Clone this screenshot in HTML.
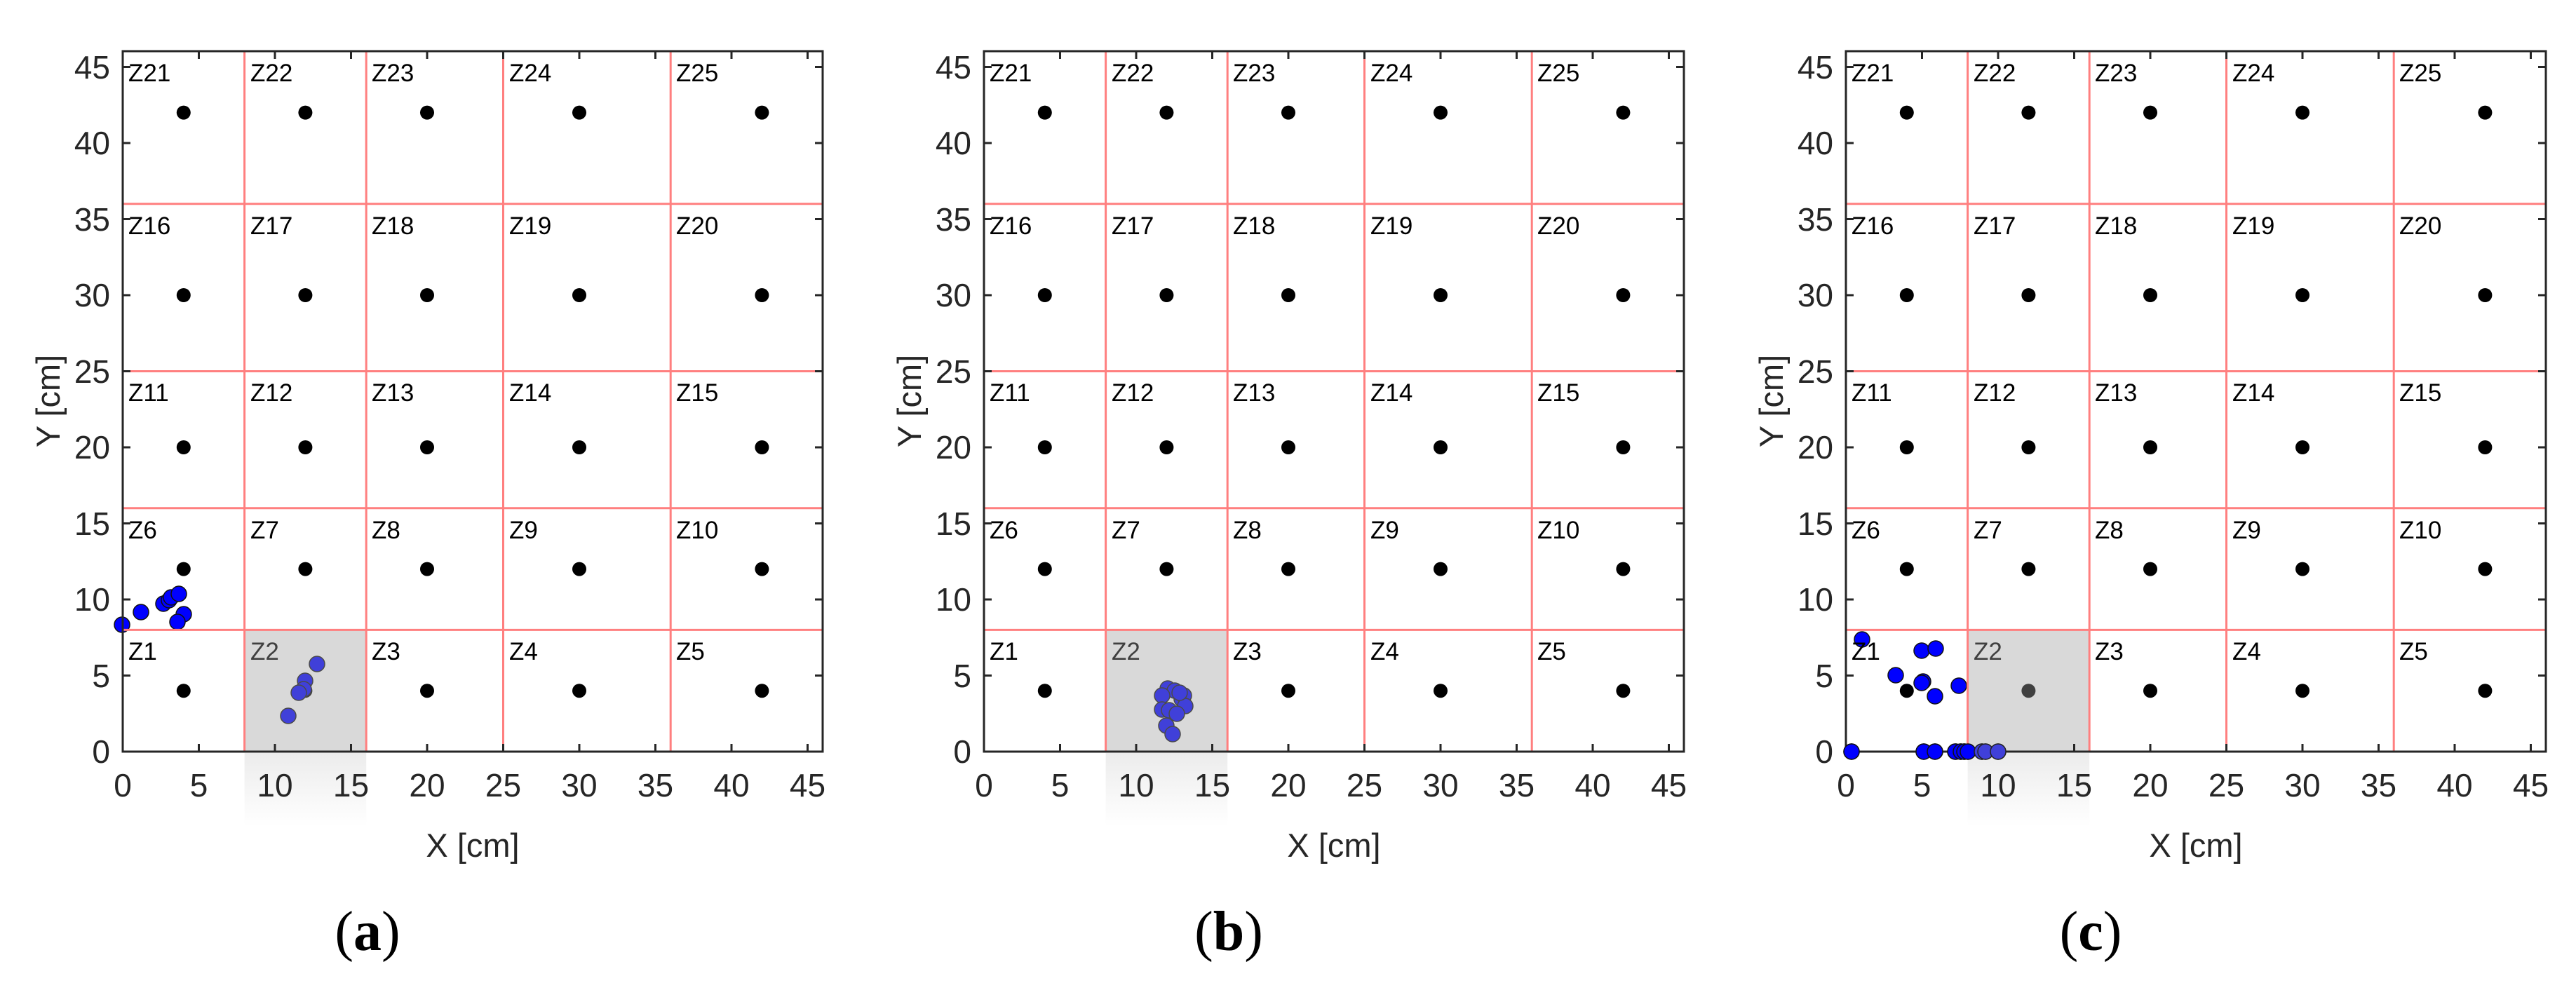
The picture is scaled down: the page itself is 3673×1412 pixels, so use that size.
<!DOCTYPE html>
<html><head><meta charset="utf-8"><style>
html,body{margin:0;padding:0;background:#fff;}
svg{display:block;}
text{font-family:"Liberation Sans",sans-serif;}
.tk{font-size:46px;fill:#262626;}
.z{font-size:35px;fill:#000;}
.ax{font-size:47px;fill:#262626;}
.cap{font-family:"Liberation Serif",serif;font-size:80px;fill:#000;}
.red{stroke:#ff7f7f;stroke-width:3;}
.axis{stroke:#262626;stroke-width:3;fill:none;}
.bd{fill:#000;}
.bl{fill:#0000ff;stroke:#111;stroke-width:1.5;}
</style></head><body>
<svg width="3673" height="1412" viewBox="0 0 3673 1412" xmlns="http://www.w3.org/2000/svg">
<defs>
<linearGradient id="fd" x1="0" y1="0" x2="0" y2="1"><stop offset="0" stop-color="#ececec"/><stop offset="1" stop-color="#ffffff"/></linearGradient>
</defs>

<!-- ===== PANEL A ===== -->
<g transform="translate(0,0)">
<rect x="348.6" y="1074" width="173.6" height="105" fill="url(#fd)"/>
<g class="bd">
<circle cx="261.8" cy="160.6" r="10"/><circle cx="435.4" cy="160.6" r="10"/><circle cx="609" cy="160.6" r="10"/><circle cx="826" cy="160.6" r="10"/><circle cx="1086.4" cy="160.6" r="10"/>
<circle cx="261.8" cy="421" r="10"/><circle cx="435.4" cy="421" r="10"/><circle cx="609" cy="421" r="10"/><circle cx="826" cy="421" r="10"/><circle cx="1086.4" cy="421" r="10"/>
<circle cx="261.8" cy="638" r="10"/><circle cx="435.4" cy="638" r="10"/><circle cx="609" cy="638" r="10"/><circle cx="826" cy="638" r="10"/><circle cx="1086.4" cy="638" r="10"/>
<circle cx="261.8" cy="811.6" r="10"/><circle cx="435.4" cy="811.6" r="10"/><circle cx="609" cy="811.6" r="10"/><circle cx="826" cy="811.6" r="10"/><circle cx="1086.4" cy="811.6" r="10"/>
<circle cx="261.8" cy="985.2" r="10"/><circle cx="435.4" cy="985.2" r="10"/><circle cx="609" cy="985.2" r="10"/><circle cx="826" cy="985.2" r="10"/><circle cx="1086.4" cy="985.2" r="10"/>
</g>
<g class="bl">
<circle cx="201" cy="873" r="11"/><circle cx="233" cy="861" r="11"/><circle cx="241" cy="856" r="11"/><circle cx="262" cy="876" r="11"/><circle cx="253" cy="887" r="11"/><circle cx="244" cy="852" r="11"/><circle cx="255" cy="847" r="11"/><circle cx="174" cy="891" r="11"/>
<circle cx="452" cy="947" r="11"/><circle cx="435" cy="971" r="11"/><circle cx="433" cy="983" r="11"/><circle cx="426" cy="988" r="11"/><circle cx="411" cy="1021" r="11"/>
</g>
<rect x="348.6" y="898.4" width="173.6" height="173.6" fill="rgb(160,160,160)" fill-opacity="0.4"/>
<g class="red">
<line x1="348.6" y1="73" x2="348.6" y2="1072"/><line x1="522.2" y1="73" x2="522.2" y2="1072"/><line x1="717.5" y1="73" x2="717.5" y2="1072"/><line x1="956.2" y1="73" x2="956.2" y2="1072"/>
<line x1="175" y1="898.4" x2="1173" y2="898.4"/><line x1="175" y1="724.8" x2="1173" y2="724.8"/><line x1="175" y1="529.5" x2="1173" y2="529.5"/><line x1="175" y1="290.8" x2="1173" y2="290.8"/>
</g>
<g class="z">
<text x="183" y="116">Z21</text><text x="357" y="116">Z22</text><text x="530" y="116">Z23</text><text x="726" y="116">Z24</text><text x="964" y="116">Z25</text>
<text x="183" y="334">Z16</text><text x="357" y="334">Z17</text><text x="530" y="334">Z18</text><text x="726" y="334">Z19</text><text x="964" y="334">Z20</text>
<text x="183" y="572">Z11</text><text x="357" y="572">Z12</text><text x="530" y="572">Z13</text><text x="726" y="572">Z14</text><text x="964" y="572">Z15</text>
<text x="183" y="768">Z6</text><text x="357" y="768">Z7</text><text x="530" y="768">Z8</text><text x="726" y="768">Z9</text><text x="964" y="768">Z10</text>
<text x="183" y="941">Z1</text><text x="357" y="941" fill="#404040">Z2</text><text x="530" y="941">Z3</text><text x="726" y="941">Z4</text><text x="964" y="941">Z5</text>
</g>
<rect x="175" y="73" width="998" height="999" class="axis"/>
<path class="axis" d="M283.5,1072v-11M392,1072v-11M500.5,1072v-11M609,1072v-11M717.5,1072v-11M826,1072v-11M934.5,1072v-11M1043,1072v-11M1151.5,1072v-11
M283.5,73v11M392,73v11M500.5,73v11M609,73v11M717.5,73v11M826,73v11M934.5,73v11M1043,73v11M1151.5,73v11
M175,963.5h11M175,855h11M175,746.5h11M175,638h11M175,529.5h11M175,421h11M175,312.5h11M175,204h11M175,95.5h11
M1173,963.5h-11M1173,855h-11M1173,746.5h-11M1173,638h-11M1173,529.5h-11M1173,421h-11M1173,312.5h-11M1173,204h-11M1173,95.5h-11"/>
<g class="tk" text-anchor="end">
<text x="157" y="1088">0</text><text x="157" y="980">5</text><text x="157" y="871">10</text><text x="157" y="763">15</text><text x="157" y="654">20</text><text x="157" y="546">25</text><text x="157" y="437">30</text><text x="157" y="329">35</text><text x="157" y="220">40</text><text x="157" y="112">45</text>
</g>
<g class="tk" text-anchor="middle">
<text x="175" y="1136">0</text><text x="283.5" y="1136">5</text><text x="392" y="1136">10</text><text x="500.5" y="1136">15</text><text x="609" y="1136">20</text><text x="717.5" y="1136">25</text><text x="826" y="1136">30</text><text x="934.5" y="1136">35</text><text x="1043" y="1136">40</text><text x="1151.5" y="1136">45</text>
</g>
<text class="ax" x="674" y="1222" text-anchor="middle">X [cm]</text>
<text class="ax" transform="translate(85,572) rotate(-90)" text-anchor="middle">Y [cm]</text>
<text class="cap" x="524" y="1355" text-anchor="middle">(<tspan font-weight="bold">a</tspan>)</text>
</g>

<!-- ===== PANEL B ===== -->
<g transform="translate(1228,0)">
<rect x="348.6" y="1074" width="173.6" height="105" fill="url(#fd)"/>
<g class="bd">
<circle cx="261.8" cy="160.6" r="10"/><circle cx="435.4" cy="160.6" r="10"/><circle cx="609" cy="160.6" r="10"/><circle cx="826" cy="160.6" r="10"/><circle cx="1086.4" cy="160.6" r="10"/>
<circle cx="261.8" cy="421" r="10"/><circle cx="435.4" cy="421" r="10"/><circle cx="609" cy="421" r="10"/><circle cx="826" cy="421" r="10"/><circle cx="1086.4" cy="421" r="10"/>
<circle cx="261.8" cy="638" r="10"/><circle cx="435.4" cy="638" r="10"/><circle cx="609" cy="638" r="10"/><circle cx="826" cy="638" r="10"/><circle cx="1086.4" cy="638" r="10"/>
<circle cx="261.8" cy="811.6" r="10"/><circle cx="435.4" cy="811.6" r="10"/><circle cx="609" cy="811.6" r="10"/><circle cx="826" cy="811.6" r="10"/><circle cx="1086.4" cy="811.6" r="10"/>
<circle cx="261.8" cy="985.2" r="10"/><circle cx="435.4" cy="985.2" r="10"/><circle cx="609" cy="985.2" r="10"/><circle cx="826" cy="985.2" r="10"/><circle cx="1086.4" cy="985.2" r="10"/>
</g>
<g class="bl">
<circle cx="437" cy="982" r="11"/><circle cx="447" cy="985" r="11"/><circle cx="429" cy="992" r="11"/><circle cx="457" cy="997" r="11"/><circle cx="460" cy="992" r="11"/><circle cx="462" cy="1007" r="11"/><circle cx="429" cy="1012" r="11"/><circle cx="439" cy="1013" r="11"/><circle cx="450" cy="1018" r="11"/><circle cx="454" cy="988" r="11"/><circle cx="435" cy="1035" r="11"/><circle cx="444" cy="1047" r="11"/>
</g>
<rect x="348.6" y="898.4" width="173.6" height="173.6" fill="rgb(160,160,160)" fill-opacity="0.4"/>
<g class="red">
<line x1="348.6" y1="73" x2="348.6" y2="1072"/><line x1="522.2" y1="73" x2="522.2" y2="1072"/><line x1="717.5" y1="73" x2="717.5" y2="1072"/><line x1="956.2" y1="73" x2="956.2" y2="1072"/>
<line x1="175" y1="898.4" x2="1173" y2="898.4"/><line x1="175" y1="724.8" x2="1173" y2="724.8"/><line x1="175" y1="529.5" x2="1173" y2="529.5"/><line x1="175" y1="290.8" x2="1173" y2="290.8"/>
</g>
<g class="z">
<text x="183" y="116">Z21</text><text x="357" y="116">Z22</text><text x="530" y="116">Z23</text><text x="726" y="116">Z24</text><text x="964" y="116">Z25</text>
<text x="183" y="334">Z16</text><text x="357" y="334">Z17</text><text x="530" y="334">Z18</text><text x="726" y="334">Z19</text><text x="964" y="334">Z20</text>
<text x="183" y="572">Z11</text><text x="357" y="572">Z12</text><text x="530" y="572">Z13</text><text x="726" y="572">Z14</text><text x="964" y="572">Z15</text>
<text x="183" y="768">Z6</text><text x="357" y="768">Z7</text><text x="530" y="768">Z8</text><text x="726" y="768">Z9</text><text x="964" y="768">Z10</text>
<text x="183" y="941">Z1</text><text x="357" y="941" fill="#404040">Z2</text><text x="530" y="941">Z3</text><text x="726" y="941">Z4</text><text x="964" y="941">Z5</text>
</g>
<rect x="175" y="73" width="998" height="999" class="axis"/>
<path class="axis" d="M283.5,1072v-11M392,1072v-11M500.5,1072v-11M609,1072v-11M717.5,1072v-11M826,1072v-11M934.5,1072v-11M1043,1072v-11M1151.5,1072v-11
M283.5,73v11M392,73v11M500.5,73v11M609,73v11M717.5,73v11M826,73v11M934.5,73v11M1043,73v11M1151.5,73v11
M175,963.5h11M175,855h11M175,746.5h11M175,638h11M175,529.5h11M175,421h11M175,312.5h11M175,204h11M175,95.5h11
M1173,963.5h-11M1173,855h-11M1173,746.5h-11M1173,638h-11M1173,529.5h-11M1173,421h-11M1173,312.5h-11M1173,204h-11M1173,95.5h-11"/>
<g class="tk" text-anchor="end">
<text x="157" y="1088">0</text><text x="157" y="980">5</text><text x="157" y="871">10</text><text x="157" y="763">15</text><text x="157" y="654">20</text><text x="157" y="546">25</text><text x="157" y="437">30</text><text x="157" y="329">35</text><text x="157" y="220">40</text><text x="157" y="112">45</text>
</g>
<g class="tk" text-anchor="middle">
<text x="175" y="1136">0</text><text x="283.5" y="1136">5</text><text x="392" y="1136">10</text><text x="500.5" y="1136">15</text><text x="609" y="1136">20</text><text x="717.5" y="1136">25</text><text x="826" y="1136">30</text><text x="934.5" y="1136">35</text><text x="1043" y="1136">40</text><text x="1151.5" y="1136">45</text>
</g>
<text class="ax" x="674" y="1222" text-anchor="middle">X [cm]</text>
<text class="ax" transform="translate(85,572) rotate(-90)" text-anchor="middle">Y [cm]</text>
<text class="cap" x="524" y="1355" text-anchor="middle">(<tspan font-weight="bold">b</tspan>)</text>
</g>

<!-- ===== PANEL C ===== -->
<g transform="translate(2457,0)">
<rect x="348.6" y="1074" width="173.6" height="105" fill="url(#fd)"/>
<g class="bd">
<circle cx="261.8" cy="160.6" r="10"/><circle cx="435.4" cy="160.6" r="10"/><circle cx="609" cy="160.6" r="10"/><circle cx="826" cy="160.6" r="10"/><circle cx="1086.4" cy="160.6" r="10"/>
<circle cx="261.8" cy="421" r="10"/><circle cx="435.4" cy="421" r="10"/><circle cx="609" cy="421" r="10"/><circle cx="826" cy="421" r="10"/><circle cx="1086.4" cy="421" r="10"/>
<circle cx="261.8" cy="638" r="10"/><circle cx="435.4" cy="638" r="10"/><circle cx="609" cy="638" r="10"/><circle cx="826" cy="638" r="10"/><circle cx="1086.4" cy="638" r="10"/>
<circle cx="261.8" cy="811.6" r="10"/><circle cx="435.4" cy="811.6" r="10"/><circle cx="609" cy="811.6" r="10"/><circle cx="826" cy="811.6" r="10"/><circle cx="1086.4" cy="811.6" r="10"/>
<circle cx="261.8" cy="985.2" r="10"/><circle cx="435.4" cy="985.2" r="10"/><circle cx="609" cy="985.2" r="10"/><circle cx="826" cy="985.2" r="10"/><circle cx="1086.4" cy="985.2" r="10"/>
</g>
<g class="bl">
<circle cx="198" cy="912" r="11"/><circle cx="283" cy="928" r="11"/><circle cx="303" cy="925" r="11"/><circle cx="246" cy="963" r="11"/><circle cx="285" cy="972" r="11"/><circle cx="283" cy="974" r="11"/><circle cx="336" cy="978" r="11"/><circle cx="302" cy="993" r="11"/>
<circle cx="183" cy="1072" r="11"/><circle cx="286" cy="1072" r="11"/><circle cx="302" cy="1072" r="11"/><circle cx="331" cy="1072" r="11"/><circle cx="339" cy="1072" r="11"/><circle cx="344" cy="1072" r="11"/><circle cx="349" cy="1072" r="11"/><circle cx="369" cy="1072" r="11"/><circle cx="374" cy="1072" r="11"/><circle cx="392" cy="1072" r="11"/>
</g>
<rect x="348.6" y="898.4" width="173.6" height="173.6" fill="rgb(160,160,160)" fill-opacity="0.4"/>
<g class="red">
<line x1="348.6" y1="73" x2="348.6" y2="1072"/><line x1="522.2" y1="73" x2="522.2" y2="1072"/><line x1="717.5" y1="73" x2="717.5" y2="1072"/><line x1="956.2" y1="73" x2="956.2" y2="1072"/>
<line x1="175" y1="898.4" x2="1173" y2="898.4"/><line x1="175" y1="724.8" x2="1173" y2="724.8"/><line x1="175" y1="529.5" x2="1173" y2="529.5"/><line x1="175" y1="290.8" x2="1173" y2="290.8"/>
</g>
<g class="z">
<text x="183" y="116">Z21</text><text x="357" y="116">Z22</text><text x="530" y="116">Z23</text><text x="726" y="116">Z24</text><text x="964" y="116">Z25</text>
<text x="183" y="334">Z16</text><text x="357" y="334">Z17</text><text x="530" y="334">Z18</text><text x="726" y="334">Z19</text><text x="964" y="334">Z20</text>
<text x="183" y="572">Z11</text><text x="357" y="572">Z12</text><text x="530" y="572">Z13</text><text x="726" y="572">Z14</text><text x="964" y="572">Z15</text>
<text x="183" y="768">Z6</text><text x="357" y="768">Z7</text><text x="530" y="768">Z8</text><text x="726" y="768">Z9</text><text x="964" y="768">Z10</text>
<text x="183" y="941">Z1</text><text x="357" y="941" fill="#404040">Z2</text><text x="530" y="941">Z3</text><text x="726" y="941">Z4</text><text x="964" y="941">Z5</text>
</g>
<rect x="175" y="73" width="998" height="999" class="axis"/>
<path class="axis" d="M283.5,1072v-11M392,1072v-11M500.5,1072v-11M609,1072v-11M717.5,1072v-11M826,1072v-11M934.5,1072v-11M1043,1072v-11M1151.5,1072v-11
M283.5,73v11M392,73v11M500.5,73v11M609,73v11M717.5,73v11M826,73v11M934.5,73v11M1043,73v11M1151.5,73v11
M175,963.5h11M175,855h11M175,746.5h11M175,638h11M175,529.5h11M175,421h11M175,312.5h11M175,204h11M175,95.5h11
M1173,963.5h-11M1173,855h-11M1173,746.5h-11M1173,638h-11M1173,529.5h-11M1173,421h-11M1173,312.5h-11M1173,204h-11M1173,95.5h-11"/>
<g class="bl">
<circle cx="183" cy="1072" r="11"/><circle cx="286" cy="1072" r="11"/><circle cx="302" cy="1072" r="11"/><circle cx="331" cy="1072" r="11"/><circle cx="339" cy="1072" r="11"/><circle cx="344" cy="1072" r="11"/><circle cx="349" cy="1072" r="11"/>
</g>
<g fill="#4040d9" stroke="#222" stroke-width="1.5">
<circle cx="369" cy="1072" r="11"/><circle cx="374" cy="1072" r="11"/><circle cx="392" cy="1072" r="11"/>
</g>
<g class="tk" text-anchor="end">
<text x="157" y="1088">0</text><text x="157" y="980">5</text><text x="157" y="871">10</text><text x="157" y="763">15</text><text x="157" y="654">20</text><text x="157" y="546">25</text><text x="157" y="437">30</text><text x="157" y="329">35</text><text x="157" y="220">40</text><text x="157" y="112">45</text>
</g>
<g class="tk" text-anchor="middle">
<text x="175" y="1136">0</text><text x="283.5" y="1136">5</text><text x="392" y="1136">10</text><text x="500.5" y="1136">15</text><text x="609" y="1136">20</text><text x="717.5" y="1136">25</text><text x="826" y="1136">30</text><text x="934.5" y="1136">35</text><text x="1043" y="1136">40</text><text x="1151.5" y="1136">45</text>
</g>
<text class="ax" x="674" y="1222" text-anchor="middle">X [cm]</text>
<text class="ax" transform="translate(85,572) rotate(-90)" text-anchor="middle">Y [cm]</text>
<text class="cap" x="524" y="1355" text-anchor="middle">(<tspan font-weight="bold">c</tspan>)</text>
</g>
</svg>
</body></html>
